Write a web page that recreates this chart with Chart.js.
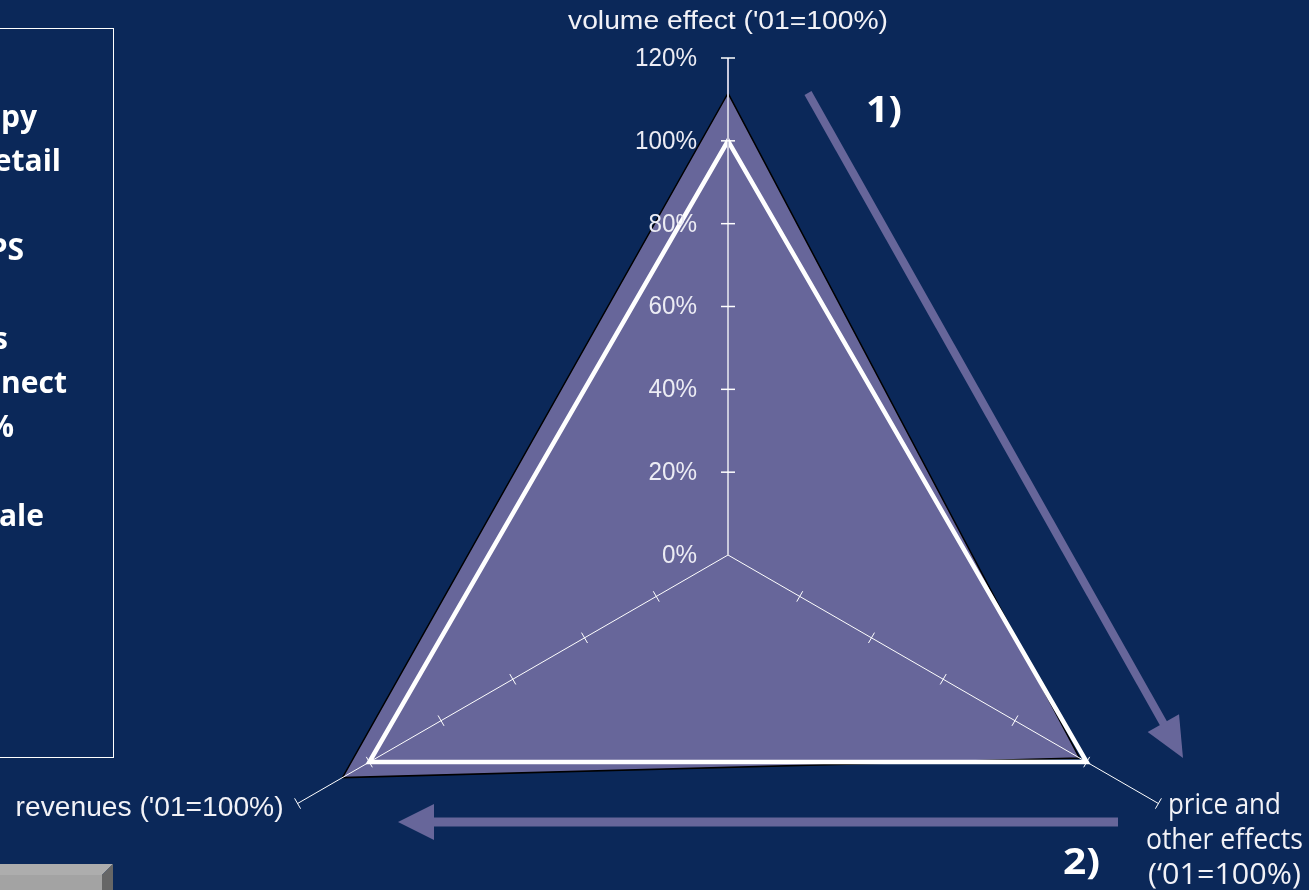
<!DOCTYPE html>
<html>
<head>
<meta charset="utf-8">
<script src="https://cdn.jsdelivr.net/npm/chart.js@4.4.1/dist/chart.umd.min.js"></script>
<style>
  html, body { margin: 0; padding: 0; width: 1309px; height: 890px; overflow: hidden; background: #0b2859; }
  #wrap { position: absolute; left: 0; top: 0; width: 1309px; height: 1110px; }
  canvas { display: block; }
</style>
</head>
<body>
<div id="wrap"><canvas id="radar" width="1309" height="1110"></canvas></div>
<script>
// Axis names (one entry per spoke, multi-line where needed)
const axisLabels = [
  ["volume effect ('01=100%)"],
  ["price and", "other effects", "(\u201801=100%)"],
  ["revenues ('01=100%)"]
];
// Current position on each axis, in % of 2001
const actualValues = [111.5, 98, 107.5];
// 2001 reference (=100% on every axis)
const baseValues = [100, 100, 100];
// Radial scale ticks
const tickValues = [0, 20, 40, 60, 80, 100, 120];
const tickLabels = ["0%", "20%", "40%", "60%", "80%", "100%", "120%"];
// Side note text lines and step markers
const sideNotes = ["py", "etail", "PS", "s", "nect", "%", "ale"];
const stepMarkers = ["1)", "2)"];

const NAVY = '#0b2859';
const LILAC = '#67669a';
const WHITE = '#ffffff';

function stretchText(ctx, text, x, y, width, align) {
  const w = ctx.measureText(text).width;
  ctx.save();
  ctx.translate(x, y);
  ctx.scale(width / w, 1);
  ctx.textAlign = align;
  ctx.fillText(text, 0, 0);
  ctx.restore();
}

function arrow(ctx, x1, y1, x2, y2, shaftW, headLen, headHalf, color) {
  const dx = x2 - x1, dy = y2 - y1;
  const len = Math.hypot(dx, dy);
  const ux = dx / len, uy = dy / len;
  const px = -uy, py = ux;
  const bx = x2 - ux * headLen, by = y2 - uy * headLen;
  ctx.save();
  ctx.strokeStyle = color;
  ctx.fillStyle = color;
  ctx.lineWidth = shaftW;
  ctx.lineCap = 'butt';
  ctx.beginPath();
  ctx.moveTo(x1, y1);
  ctx.lineTo(bx + ux, by + uy);
  ctx.stroke();
  ctx.beginPath();
  ctx.moveTo(x2, y2);
  ctx.lineTo(bx + px * headHalf, by + py * headHalf);
  ctx.lineTo(bx - px * headHalf, by - py * headHalf);
  ctx.closePath();
  ctx.fill();
  ctx.restore();
}

const decorations = {
  id: 'decorations',
  afterDraw(chart) {
    const ctx = chart.ctx;
    const s = chart.scales.r;
    const cx = s.xCenter, cy = s.yCenter;
    const n = axisLabels.length;

    ctx.save();
    // tick marks on the vertical axis and tick labels
    ctx.strokeStyle = WHITE;
    ctx.fillStyle = '#ececf4';
    ctx.font = "25px 'Liberation Sans', Arial, sans-serif";
    ctx.textAlign = 'right';
    ctx.textBaseline = 'middle';
    tickValues.forEach((v, i) => {
      const p = s.getPointPositionForValue(0, v);
      if (v > 0) {
        ctx.lineWidth = 1.5;
        ctx.beginPath();
        ctx.moveTo(p.x - 7, p.y);
        ctx.lineTo(p.x + 7, p.y);
        ctx.stroke();
      }
      stretchText(ctx, tickLabels[i], p.x - 31, p.y + 1, ctx.measureText(tickLabels[i]).width * 0.97, 'right');
    });

    // perpendicular tick marks on the other spokes
    ctx.lineWidth = 1;
    for (let a = 1; a < n; a++) {
      const ang = s.getIndexAngle(a) - Math.PI / 2;
      const nx = -Math.sin(ang), ny = Math.cos(ang);
      tickValues.forEach(v => {
        if (v === 0) return;
        const p = s.getPointPositionForValue(a, v);
        ctx.beginPath();
        ctx.moveTo(p.x - nx * 6, p.y - ny * 6);
        ctx.lineTo(p.x + nx * 6, p.y + ny * 6);
        ctx.stroke();
      });
    }

    // spoke names
    ctx.fillStyle = '#f2f2f7';
    ctx.textBaseline = 'middle';
    const top = s.getPointPositionForValue(0, s.max);
    ctx.font = "26px 'Liberation Sans', Arial, sans-serif";
    stretchText(ctx, axisLabels[0][0], top.x, top.y - 36, 320, 'center');

    const right = s.getPointPositionForValue(1, s.max);
    ctx.font = "29px 'Open Sans', sans-serif";
    const rightWidths = [113, 157, 153];
    axisLabels[1].forEach((t, i) => {
      stretchText(ctx, t, right.x + 66, right.y + 2 + i * 35, rightWidths[i], 'center');
    });

    const left = s.getPointPositionForValue(2, s.max);
    ctx.font = "27px 'Liberation Sans', Arial, sans-serif";
    stretchText(ctx, axisLabels[2][0], left.x - 14, left.y + 5, 268, 'right');

    // direction arrows
    arrow(ctx, cx + 80, cy - 462, cx + 455, cy + 203, 8, 40, 18, LILAC);
    arrow(ctx, cx + 390, cy + 267, cx - 330, cy + 267, 9, 36, 18, LILAC);

    // step markers
    ctx.fillStyle = WHITE;
    ctx.font = "bold 36px 'Open Sans', sans-serif";
    stretchText(ctx, stepMarkers[0], cx + 138, cy - 443, 36, 'left');
    stretchText(ctx, stepMarkers[1], cx + 335, cy + 309, 37, 'left');

    // framed note box on the left edge
    ctx.strokeStyle = WHITE;
    ctx.lineWidth = 1;
    ctx.strokeRect(-10.5, 28.5, 124, 729);
    ctx.font = "bold 30px 'Open Sans', sans-serif";
    ctx.textAlign = 'right';
    const noteRight = [37, 61, 24, 8, 67, 14, 44];
    const noteRow = [0, 1, 3, 5, 6, 7, 9];
    sideNotes.forEach((t, i) => {
      ctx.fillText(t, noteRight[i], 118 + noteRow[i] * 44.4);
    });

    // grey bevelled button at the bottom left
    ctx.fillStyle = '#adadad';
    ctx.beginPath();
    ctx.moveTo(0, 864); ctx.lineTo(113, 864); ctx.lineTo(102, 875); ctx.lineTo(0, 875);
    ctx.closePath(); ctx.fill();
    ctx.fillStyle = '#a3a3a3';
    ctx.fillRect(0, 875, 102, 20);
    ctx.fillStyle = '#666666';
    ctx.beginPath();
    ctx.moveTo(102, 875); ctx.lineTo(113, 864); ctx.lineTo(113, 895); ctx.lineTo(102, 895);
    ctx.closePath(); ctx.fill();

    ctx.restore();
  }
};

new Chart(document.getElementById('radar'), {
  type: 'radar',
  data: {
    labels: axisLabels,
    datasets: [
      {
        label: '2001',
        data: baseValues,
        borderColor: WHITE,
        borderWidth: 4.5,
        backgroundColor: 'rgba(0,0,0,0)',
        fill: false,
        pointRadius: 0,
        tension: 0,
        order: 0
      },
      {
        label: 'current',
        data: actualValues,
        borderColor: '#000000',
        borderWidth: 1.5,
        backgroundColor: LILAC,
        fill: true,
        pointRadius: 0,
        tension: 0,
        order: 1
      }
    ]
  },
  options: {
    responsive: false,
    animation: false,
    devicePixelRatio: 1,
    layout: { padding: { left: 231, right: 83, top: 58, bottom: 57 } },
    plugins: { legend: { display: false }, tooltip: { enabled: false } },
    scales: {
      r: {
        min: tickValues[0],
        max: tickValues[tickValues.length - 1],
        ticks: { stepSize: 20, display: false },
        grid: { display: false, z: 1 },
        angleLines: {
          display: true,
          z: 1,
          color: c => c.index === 0 ? '#c9c9dc' : '#ffffff',
          lineWidth: c => c.index === 0 ? 2 : 1
        },
        pointLabels: { display: false }
      }
    }
  },
  plugins: [decorations]
});
</script>
</body>
</html>
